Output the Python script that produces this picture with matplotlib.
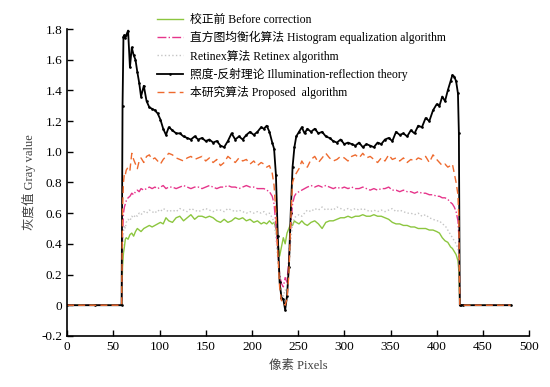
import numpy as np
import matplotlib.pyplot as plt

plt.rcParams['font.family'] = ['Liberation Serif', 'Noto Sans CJK SC']
plt.rcParams['axes.unicode_minus'] = False

# 像素位置 (横轴)
x = [0, 30, 59,
     60, 61, 62, 63, 64, 66, 68, 70, 72, 74, 76, 78, 80,
     83, 86, 89, 92, 95, 98, 101, 104, 107, 110,
     114, 118, 122, 126, 130, 134, 138, 142, 146, 150, 154, 158, 162, 166, 170,
     174, 178, 182, 186, 190, 194, 198, 202, 206, 210,
     213, 216, 219, 222, 224, 226, 228, 230, 232, 234, 236, 238, 240, 242, 244, 246, 248,
     251, 254, 257, 260,
     264, 268, 272, 276, 280, 284, 288, 292, 296, 300, 304, 308, 312, 316, 320, 324,
     328, 332, 336, 340, 344, 348, 352, 356, 360, 364, 368, 372, 376, 380, 384, 388,
     392, 396, 400,
     403, 406, 409, 412, 415, 417, 419, 421, 423, 424, 425, 426,
     428, 480]

# 校正前
before = [0, 0, 0,
          0.25, 0.34, 0.38, 0.43, 0.44, 0.43, 0.46, 0.47, 0.45, 0.48, 0.50, 0.49, 0.48,
          0.50, 0.51, 0.52, 0.51, 0.52, 0.53, 0.54, 0.53, 0.57, 0.55,
          0.54, 0.57, 0.58, 0.55, 0.57, 0.59, 0.56, 0.58, 0.58, 0.57, 0.58, 0.57, 0.55, 0.54, 0.56,
          0.54, 0.55, 0.57, 0.56, 0.57, 0.55, 0.56, 0.54, 0.55, 0.53,
          0.54, 0.53, 0.55, 0.53, 0.54, 0.50, 0.42, 0.32, 0.38, 0.44, 0.40, 0.47, 0.50, 0.53, 0.52, 0.55, 0.54,
          0.53, 0.55, 0.53, 0.52,
          0.54, 0.55, 0.53, 0.50, 0.54, 0.55, 0.55, 0.56, 0.57, 0.57, 0.58, 0.57, 0.58, 0.58, 0.59, 0.58,
          0.58, 0.59, 0.58, 0.58, 0.57, 0.56, 0.54, 0.53, 0.53, 0.52, 0.52, 0.51, 0.51, 0.50, 0.50, 0.50,
          0.49, 0.49, 0.48,
          0.47, 0.44, 0.42, 0.41, 0.38, 0.37, 0.35, 0.33, 0.29, 0.22, 0, 0,
          0, 0]

# 直方图均衡化算法
histeq = [0, 0, 0,
          0.45, 0.60, 0.64, 0.66, 0.68, 0.70, 0.71, 0.73, 0.72, 0.74, 0.75, 0.74, 0.76,
          0.75, 0.76, 0.77, 0.76, 0.77, 0.76, 0.77, 0.78, 0.76, 0.77,
          0.77, 0.76, 0.77, 0.78, 0.77, 0.76, 0.77, 0.77, 0.76, 0.77, 0.78, 0.77, 0.76, 0.77, 0.77,
          0.78, 0.77, 0.77, 0.76, 0.77, 0.78, 0.77, 0.77, 0.76, 0.76,
          0.76, 0.75, 0.74, 0.71, 0.66, 0.52, 0.35, 0.20, 0.14, 0.12, 0.18, 0.15, 0.30, 0.52, 0.66, 0.71, 0.73,
          0.74, 0.75, 0.76, 0.77,
          0.78, 0.77, 0.78, 0.77, 0.78, 0.77, 0.76, 0.77, 0.76, 0.77, 0.76, 0.77, 0.76, 0.76, 0.77, 0.76,
          0.75, 0.76, 0.75, 0.76, 0.76, 0.77, 0.75, 0.75, 0.74, 0.75, 0.74, 0.74, 0.73, 0.74, 0.73, 0.73,
          0.72, 0.72, 0.71,
          0.71, 0.70, 0.70, 0.69, 0.67, 0.66, 0.64, 0.61, 0.55, 0.45, 0, 0,
          0, 0]

# Retinex算法
retinex = [0, 0, 0,
           0.38, 0.48, 0.52, 0.50, 0.54, 0.56, 0.55, 0.58, 0.57, 0.59, 0.58, 0.60, 0.59,
           0.61, 0.60, 0.62, 0.61, 0.60, 0.62, 0.61, 0.63, 0.62, 0.61,
           0.62, 0.61, 0.63, 0.62, 0.61, 0.63, 0.62, 0.61, 0.62, 0.63, 0.62, 0.61, 0.62, 0.62, 0.61,
           0.63, 0.62, 0.61, 0.62, 0.61, 0.60, 0.61, 0.60, 0.61, 0.60,
           0.61, 0.59, 0.60, 0.57, 0.54, 0.44, 0.30, 0.15, 0.08, 0.06, 0.10, 0.09, 0.22, 0.42, 0.53, 0.57, 0.58,
           0.59, 0.58, 0.60, 0.62,
           0.61, 0.63, 0.62, 0.64, 0.62, 0.63, 0.62, 0.64, 0.63, 0.62, 0.63, 0.62, 0.63, 0.62, 0.63, 0.62,
           0.61, 0.62, 0.61, 0.62, 0.61, 0.62, 0.63, 0.61, 0.62, 0.61, 0.60, 0.60, 0.59, 0.60, 0.58, 0.59,
           0.57, 0.56, 0.55,
           0.55, 0.53, 0.52, 0.49, 0.46, 0.44, 0.42, 0.40, 0.37, 0.32, 0, 0,
           0, 0]

# 照度-反射理论
illum = [0, 0, 0,
         1.30, 1.75, 1.76, 1.74, 1.76, 1.79, 1.55, 1.68, 1.63, 1.60, 1.52, 1.45, 1.36,
         1.43, 1.33, 1.29, 1.28, 1.27, 1.25, 1.21, 1.15, 1.11, 1.16,
         1.14, 1.12, 1.12, 1.10, 1.09, 1.08, 1.10, 1.08, 1.09, 1.07, 1.08, 1.06, 1.07, 1.04, 1.03,
         1.07, 1.12, 1.08, 1.10, 1.08, 1.11, 1.13, 1.11, 1.13, 1.16,
         1.15, 1.17, 1.13, 1.06, 1.02, 0.85, 0.45, 0.15, 0.05, 0.04, -0.03, 0.06, 0.25, 0.60, 0.90, 1.03, 1.10,
         1.13, 1.16, 1.12, 1.15,
         1.13, 1.15, 1.12, 1.13, 1.10, 1.09, 1.07, 1.06, 1.08, 1.05, 1.06, 1.05, 1.04, 1.06, 1.03, 1.05,
         1.04, 1.03, 1.06, 1.05, 1.08, 1.09, 1.07, 1.13, 1.11, 1.12, 1.10, 1.14, 1.12, 1.17, 1.16, 1.22,
         1.20, 1.27, 1.31,
         1.30, 1.36, 1.33, 1.40, 1.46, 1.50, 1.49, 1.46, 1.38, 1.12, 0, 0,
         0, 0]

# 本研究算法
proposed = [0, 0, 0,
            0.62, 0.80, 0.86, 0.85, 0.88, 0.90, 0.88, 0.99, 0.95, 0.92, 0.89, 0.94, 0.96,
            0.93, 0.97, 0.98, 0.95, 0.96, 0.94, 0.92, 0.95, 0.97, 0.99,
            0.98, 0.96, 0.95, 0.94, 0.96, 0.97, 0.95, 0.96, 0.97, 0.94, 0.96, 0.93, 0.95, 0.91, 0.93,
            0.97, 0.95, 0.93, 0.96, 0.94, 0.95, 0.92, 0.94, 0.91, 0.93,
            0.92, 0.90, 0.91, 0.86, 0.78, 0.60, 0.35, 0.12, 0.03, 0.02, 0.00, 0.04, 0.20, 0.55, 0.80, 0.84, 0.86,
            0.89, 0.94, 0.91, 0.90,
            0.95, 0.97, 0.93, 0.96, 0.99, 0.96, 0.94, 0.95, 0.97, 0.96, 0.94, 0.97, 0.98, 0.96, 0.99, 0.96,
            0.97, 0.95, 0.93, 0.96, 0.94, 0.98, 0.95, 0.96, 0.94, 0.96, 0.93, 0.95, 0.94, 0.96, 0.95, 0.97,
            0.93, 0.98, 0.95,
            0.93, 0.91, 0.92, 0.90, 0.91, 0.92, 0.86, 0.80, 0.72, 0.55, 0, 0,
            0, 0]

labels = ['校正前 Before correction',
          '直方图均衡化算法 Histogram equalization algorithm',
          'Retinex算法 Retinex algorithm',
          '照度-反射理论 Illumination-reflection theory',
          '本研究算法 Proposed  algorithm']

fig = plt.figure(figsize=(5.5, 3.87), dpi=100)
ax = fig.add_axes([0.122, 0.132, 0.840, 0.793])

ax.plot(x, before, color='#8cc63f', lw=1.0, label=labels[0])
ax.plot(x, histeq, color='#e6358b', lw=1.0, ls='-.', label=labels[1])
ax.plot(x, retinex, color='#c4c4c4', lw=1.0, ls=':', label=labels[2])
ax.plot(x, illum, color='black', lw=1.3, marker='.', ms=1.8, label=labels[3])
ax.plot(x, proposed, color='#ee6a2e', lw=1.0, ls=(0, (5, 3)), label=labels[4])

ax.set_xlim(0, 500)
ax.set_ylim(-0.2, 1.8)
ax.set_xticks(np.arange(0, 501, 50))
yt = np.arange(-0.2, 1.81, 0.2)
ax.set_yticks(yt)
ax.set_yticklabels(['0' if abs(v) < 1e-9 else f'{v:.1f}' for v in yt])
ax.tick_params(direction='in', length=4, width=1, labelsize=9.5, colors='black')
ax.spines['top'].set_visible(False)
ax.spines['right'].set_visible(False)
ax.spines['left'].set_linewidth(1.2)
ax.spines['bottom'].set_linewidth(1.2)

ax.set_xlabel('像素 Pixels', fontsize=9, color='#404040', labelpad=5)
ax.set_ylabel('灰度值 Gray value', fontsize=9, color='#404040', labelpad=4)

ax.legend(loc='upper left', bbox_to_anchor=(0.185, 1.065), frameon=False,
          fontsize=8.5, handlelength=2.2, handletextpad=0.6, labelspacing=0.45,
          borderaxespad=0)

fig.savefig('out.png', dpi=100)
